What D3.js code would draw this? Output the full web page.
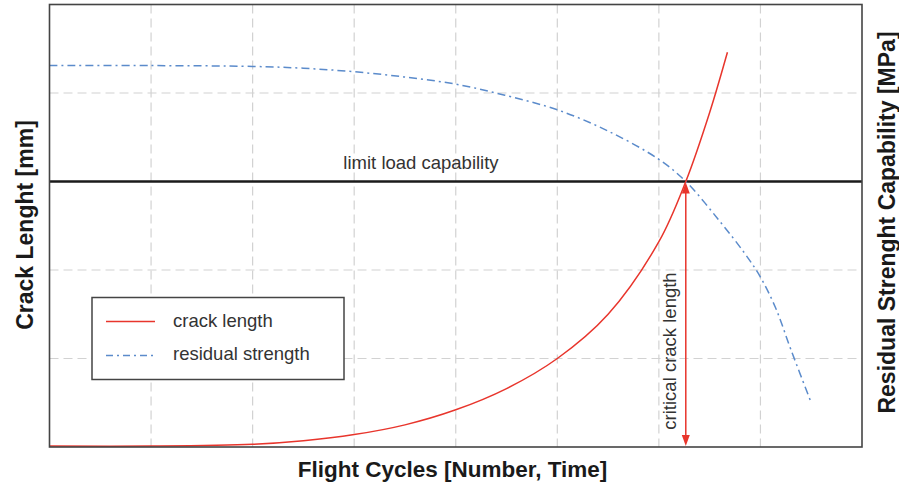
<!DOCTYPE html>
<html>
<head>
<meta charset="utf-8">
<script src="https://cdn.jsdelivr.net/npm/d3@7"></script>
<style>
  body { margin: 0; background: #fff; }
  svg text { font-family: "Liberation Sans", Arial, sans-serif; }
</style>
</head>
<body>
<div id="chart"></div>
<script>
// grid positions (no tick labels in the picture)
const xGrid = [1, 2, 3, 4, 5, 6, 7];
const yGrid = [1, 2, 3, 4];

// crack length curve (flight cycles -> crack length)
const crackX = [0, 1, 2, 2.5, 3, 3.5, 4, 4.5, 5, 5.5, 6, 6.265, 6.5, 6.675];
const crackY = [0.01, 0.01, 0.03, 0.07, 0.14, 0.25, 0.42, 0.66, 1.0, 1.50, 2.32, 3.0, 3.78, 4.46];

// residual strength curve
const strengthX = [0, 1, 2, 2.5, 3, 3.5, 4, 4.5, 5, 5.5, 6, 6.265, 6.6, 6.85, 7.0, 7.15, 7.3, 7.5];
const strengthY = [4.31, 4.31, 4.30, 4.28, 4.24, 4.18, 4.10, 3.97, 3.81, 3.57, 3.25, 3.0, 2.55, 2.18, 1.92, 1.57, 1.1, 0.5];

const limitLoad = 3;
const criticalCycle = 6.265;

const legendItems = ["crack length", "residual strength"];

const chartW = 899, chartH = 484;
const plotL = 49.5, plotR = 862, plotT = 4.5, plotB = 447;

const svg = d3.select("#chart").append("svg")
  .attr("width", chartW)
  .attr("height", chartH);

const x = d3.scaleLinear().domain([0, 8]).range([plotL, plotR]);
const y = d3.scaleLinear().domain([0, 5]).range([plotB, plotT]);

// dashed grid
svg.append("g")
  .selectAll("line")
  .data(xGrid)
  .join("line")
    .attr("x1", d => x(d)).attr("x2", d => x(d))
    .attr("y1", plotT).attr("y2", plotB)
    .attr("stroke", "#d2d2d2")
    .attr("stroke-width", 1.2)
    .attr("stroke-dasharray", "9,5");

svg.append("g")
  .selectAll("line")
  .data(yGrid)
  .join("line")
    .attr("x1", plotL).attr("x2", plotR)
    .attr("y1", d => y(d)).attr("y2", d => y(d))
    .attr("stroke", "#d2d2d2")
    .attr("stroke-width", 1.2)
    .attr("stroke-dasharray", "9,5");

// limit load line
svg.append("line")
  .attr("x1", plotL).attr("x2", plotR)
  .attr("y1", y(limitLoad)).attr("y2", y(limitLoad))
  .attr("stroke", "#1a1a1a")
  .attr("stroke-width", 2.5);

svg.append("text")
  .attr("x", 421)
  .attr("y", 169)
  .attr("text-anchor", "middle")
  .attr("font-size", "18.5px")
  .attr("fill", "#333")
  .text("limit load capability");

const line = d3.line()
  .x(d => x(d[0]))
  .y(d => y(d[1]))
  .curve(d3.curveCatmullRom.alpha(0.5));

// residual strength
svg.append("path")
  .datum(d3.zip(strengthX, strengthY))
  .attr("d", line)
  .attr("fill", "none")
  .attr("stroke", "#5b8bcb")
  .attr("stroke-width", 1.5)
  .attr("stroke-dasharray", "8,4,2,4");

// crack length
svg.append("path")
  .datum(d3.zip(crackX, crackY))
  .attr("d", line)
  .attr("fill", "none")
  .attr("stroke", "#e8352c")
  .attr("stroke-width", 1.5);

// critical crack length double arrow
const ax = x(criticalCycle);
const yTop = y(limitLoad) + 1, yBot = y(0) - 1;
svg.append("line")
  .attr("x1", ax).attr("x2", ax)
  .attr("y1", yTop + 8).attr("y2", yBot - 8)
  .attr("stroke", "#e8352c")
  .attr("stroke-width", 1.5);
svg.append("path")
  .attr("d", `M${ax},${yTop} L${ax - 4},${yTop + 11} L${ax + 4},${yTop + 11} Z`)
  .attr("fill", "#e8352c");
svg.append("path")
  .attr("d", `M${ax},${yBot} L${ax - 4},${yBot - 11} L${ax + 4},${yBot - 11} Z`)
  .attr("fill", "#e8352c");

svg.append("text")
  .attr("transform", `translate(${ax - 10},351) rotate(-90)`)
  .attr("text-anchor", "middle")
  .attr("font-size", "18.5px")
  .attr("fill", "#333")
  .text("critical crack length");

// frame
svg.append("rect")
  .attr("x", plotL).attr("y", plotT)
  .attr("width", plotR - plotL).attr("height", plotB - plotT)
  .attr("fill", "none")
  .attr("stroke", "#444")
  .attr("stroke-width", 1.6);

// legend
const legend = svg.append("g").attr("transform", "translate(92,297.5)");
legend.append("rect")
  .attr("width", 252).attr("height", 82)
  .attr("fill", "#fff")
  .attr("stroke", "#444")
  .attr("stroke-width", 1.5);
legend.selectAll("line")
  .data(legendItems)
  .join("line")
    .attr("x1", 14).attr("x2", 63)
    .attr("y1", (d, i) => 24 + i * 34).attr("y2", (d, i) => 24 + i * 34)
    .attr("stroke", (d, i) => i === 0 ? "#e8352c" : "#5b8bcb")
    .attr("stroke-width", 1.5)
    .attr("stroke-dasharray", (d, i) => i === 0 ? null : "7,4,2,4");
legend.selectAll("text")
  .data(legendItems)
  .join("text")
    .attr("x", 81)
    .attr("y", (d, i) => 29.5 + i * 33)
    .attr("font-size", "18.5px")
    .attr("fill", "#333")
    .text(d => d);

// axis titles
svg.append("text")
  .attr("x", 452.5)
  .attr("y", 477)
  .attr("text-anchor", "middle")
  .attr("font-size", "22.5px")
  .attr("font-weight", "bold")
  .attr("fill", "#1a1a1a")
  .text("Flight Cycles [Number, Time]");

svg.append("text")
  .attr("transform", "translate(33,225) rotate(-90)")
  .attr("text-anchor", "middle")
  .attr("font-size", "23px")
  .attr("font-weight", "bold")
  .attr("fill", "#1a1a1a")
  .text("Crack Lenght [mm]");

svg.append("text")
  .attr("transform", "translate(895,222.5) rotate(-90)")
  .attr("text-anchor", "middle")
  .attr("font-size", "23px")
  .attr("font-weight", "bold")
  .attr("fill", "#1a1a1a")
  .text("Residual Strenght Capability [MPa]");
</script>
</body>
</html>
